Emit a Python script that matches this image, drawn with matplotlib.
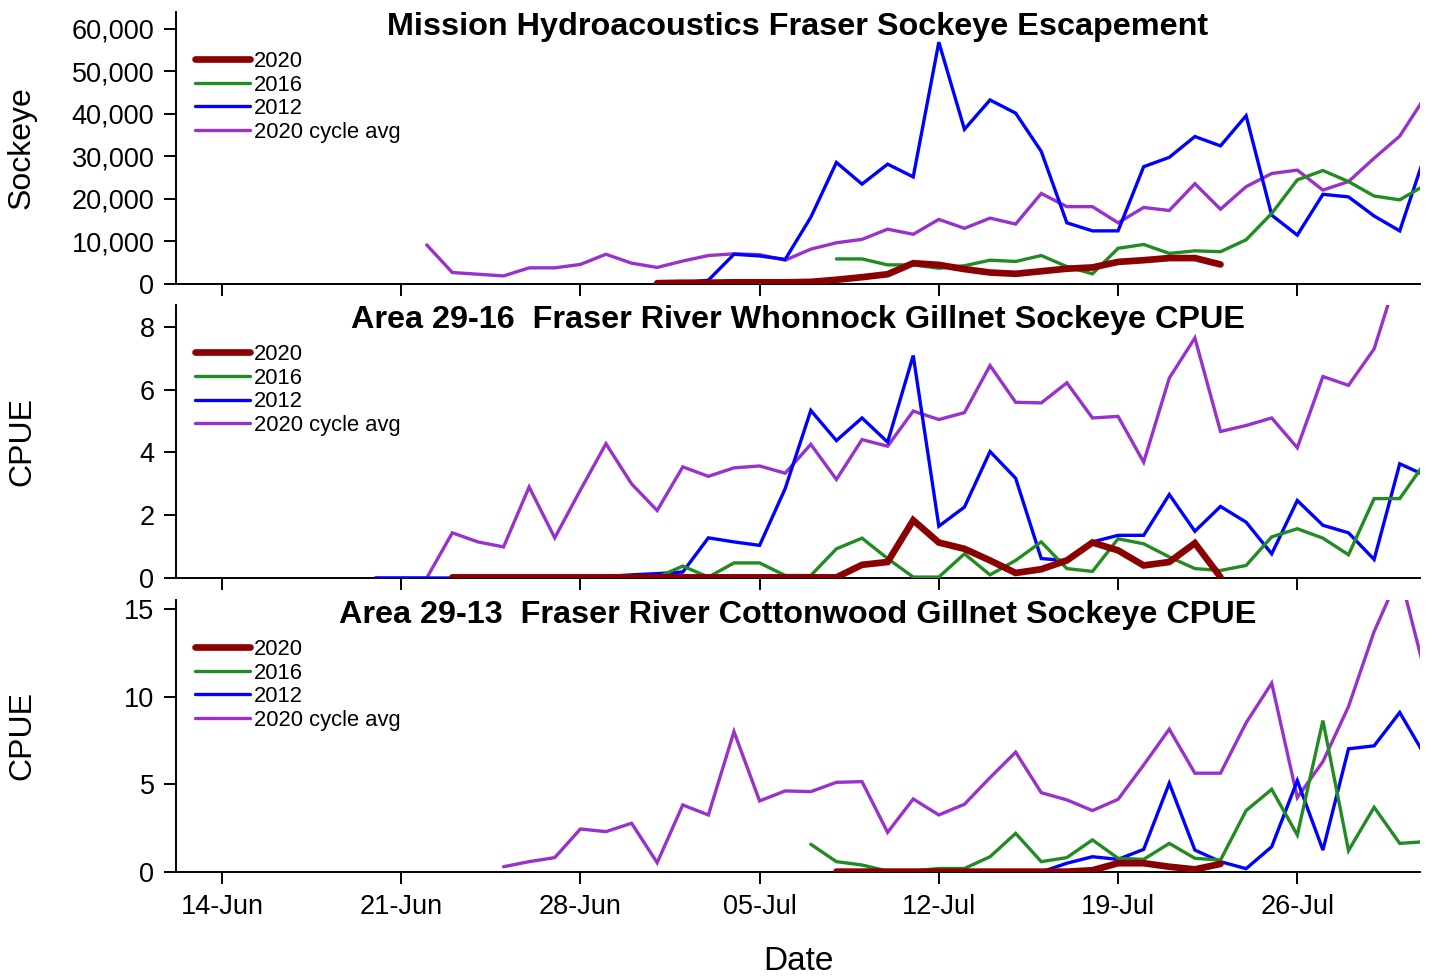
import pandas as pd
import matplotlib
matplotlib.use("Agg")
import matplotlib.pyplot as plt
import matplotlib.dates as mdates
from matplotlib.ticker import FuncFormatter

plt.rcParams['font.family'] = ['Liberation Sans', 'DejaVu Sans']

# ---------- Data (daily values, each series starts on its own date) ----------
# Mission hydroacoustics escapement (fish / day)
mission_2020_start = "2020-07-01"
mission_2020 = [200, 300, 300, 400, 400, 400, 500, 1000, 1600, 2300, 4900, 4500, 3500,
                2700, 2400, 3000, 3600, 3900, 5200, 5600, 6100, 6100, 4600]
mission_2016_start = "2020-07-08"
mission_2016 = [5900, 5900, 4500, 4500, 3700, 4300, 5600, 5300, 6700, 4100, 2400, 8400,
                9300, 7200, 7800, 7600, 10400, 16600, 24500, 26700, 24100, 20700, 19800, 23300]
mission_2012_start = "2020-07-01"
mission_2012 = [100, 300, 900, 7000, 6600, 5800, 15700, 28600, 23500, 28200, 25200, 56900,
                36400, 43300, 40200, 31200, 14400, 12500, 12500, 27600, 29800, 34700, 32500,
                39600, 16200, 11500, 21100, 20500, 16000, 12500, 30600]
mission_avg_start = "2020-06-22"
mission_avg = [9200, 2700, 2300, 1900, 3800, 3800, 4600, 7000, 4900, 3900, 5400, 6700, 7100,
               6900, 5600, 8200, 9700, 10500, 12900, 11700, 15200, 13100, 15500, 14100, 21300,
               18200, 18200, 14400, 18000, 17300, 23600, 17600, 22900, 26000, 26800, 22100,
               24100, 29600, 34800, 44100]

# Area 29-16 Whonnock gillnet CPUE
whon_2020_start = "2020-06-23"
whon_2020 = [0.02] * 16 + [0.42, 0.51, 1.84, 1.13, 0.93, 0.56, 0.16, 0.28, 0.56, 1.13, 0.88,
                           0.40, 0.51, 1.11, 0.03]
whon_2016_start = "2020-06-28"
whon_2016 = [0.02, 0.02, 0.02, 0.02, 0.38, 0.03, 0.48, 0.48, 0.08, 0.08, 0.93, 1.27, 0.62,
             0.03, 0.03, 0.77, 0.10, 0.56, 1.15, 0.30, 0.21, 1.25, 1.09, 0.67, 0.30, 0.24,
             0.40, 1.31, 1.57, 1.27, 0.74, 2.53, 2.53, 3.69]
whon_2012_start = "2020-06-20"
whon_2012 = [0.0] * 9 + [0.05, 0.10, 0.14, 0.19, 1.28, 1.15, 1.04, 2.85, 5.34, 4.38, 5.10,
                         4.33, 7.09, 1.65, 2.26, 4.03, 3.18, 0.62, 0.55, 1.15, 1.36, 1.36, 2.66,
                         1.49, 2.28, 1.78, 0.77, 2.47, 1.68, 1.44, 0.59, 3.64, 3.27]
whon_avg_start = "2020-06-20"
whon_avg = [0.0, 0.0, 0.0, 1.44, 1.15, 0.99, 2.90, 1.28, 2.80, 4.28, 3.00, 2.15, 3.54, 3.24,
            3.51, 3.57, 3.34, 4.26, 3.14, 4.41, 4.20, 5.32, 5.05, 5.27, 6.77, 5.60, 5.58, 6.22,
            5.10, 5.15, 3.69, 6.37, 7.65, 4.67, 4.86, 5.10, 4.15, 6.42, 6.14, 7.30, 9.90, 10.50]

# Area 29-13 Cottonwood gillnet CPUE
cotton_2020_start = "2020-07-08"
cotton_2020 = [0.02] * 10 + [0.10, 0.50, 0.50, 0.30, 0.15, 0.46]
cotton_2016_start = "2020-07-07"
cotton_2016 = [1.58, 0.59, 0.40, 0.05, 0.05, 0.20, 0.20, 0.87, 2.20, 0.59, 0.82, 1.83, 0.78,
               0.72, 1.63, 0.78, 0.68, 3.50, 4.71, 2.11, 8.63, 1.22, 3.69, 1.63, 1.73]
cotton_2012_start = "2020-07-13"
cotton_2012 = [0.0, 0.0, 0.0, 0.0, 0.50, 0.87, 0.72, 1.29, 5.06, 1.25, 0.59, 0.19, 1.44, 5.21,
               1.25, 7.02, 7.19, 9.09, 6.60]
cotton_avg_start = "2020-06-25"
cotton_avg = [0.30, 0.59, 0.82, 2.45, 2.30, 2.78, 0.53, 3.82, 3.25, 8.00, 4.05, 4.62, 4.58,
              5.11, 5.15, 2.26, 4.16, 3.25, 3.86, 5.38, 6.83, 4.52, 4.11, 3.50, 4.14, 6.10,
              8.14, 5.63, 5.63, 8.50, 10.76, 4.24, 6.29, 9.43, 13.70, 17.00, 11.30]

series_labels = ["2020", "2016", "2012", "2020 cycle avg"]
series_colors = ["#8B0000", "#228B22", "#0000FF", "#9932CC"]
series_widths = [4.8, 2.4, 2.4, 2.4]

panels = [
    ("Mission Hydroacoustics Fraser Sockeye Escapement", "Sockeye",
     [(mission_2020_start, mission_2020), (mission_2016_start, mission_2016),
      (mission_2012_start, mission_2012), (mission_avg_start, mission_avg)],
     [0, 10000, 20000, 30000, 40000, 50000, 60000], 64000),
    ("Area 29-16  Fraser River Whonnock Gillnet Sockeye CPUE", "CPUE",
     [(whon_2020_start, whon_2020), (whon_2016_start, whon_2016),
      (whon_2012_start, whon_2012), (whon_avg_start, whon_avg)],
     [0, 2, 4, 6, 8], 8.7),
    ("Area 29-13  Fraser River Cottonwood Gillnet Sockeye CPUE", "CPUE",
     [(cotton_2020_start, cotton_2020), (cotton_2016_start, cotton_2016),
      (cotton_2012_start, cotton_2012), (cotton_avg_start, cotton_avg)],
     [0, 5, 10, 15], 15.5),
]

x_ticks = pd.date_range("2020-06-14", "2020-07-26", freq="7D")
x_left = pd.Timestamp("2020-06-14") - pd.Timedelta(hours=43)
x_right = pd.Timestamp("2020-07-30") + pd.Timedelta(hours=19)

# ---------- Plot ----------
fig = plt.figure(figsize=(14.32, 9.77), dpi=100)
W, H = 1432, 977
ax_boxes = [(12, 284), (305, 578), (600, 872)]  # top, bottom in pixels
left_px, right_px = 176, 1420

draw_order = [3, 2, 1, 0]
for i, (title, ylab, data, yticks, ytop) in enumerate(panels):
    top, bot = ax_boxes[i]
    ax = fig.add_axes([left_px / W, 1 - bot / H, (right_px - left_px) / W, (bot - top) / H])
    handles = {}
    for k in draw_order:
        start, vals = data[k]
        dates = pd.date_range(start, periods=len(vals), freq="D")
        ln, = ax.plot(dates, vals, color=series_colors[k], lw=series_widths[k],
                      solid_capstyle="round", solid_joinstyle="miter", zorder=2 + (3 - k))
        handles[k] = ln
    ax.set_xlim(x_left, x_right)
    ax.set_ylim(0, ytop)
    ax.set_yticks(yticks)
    if i == 0:
        ax.yaxis.set_major_formatter(FuncFormatter(lambda v, p: f"{int(v):,}"))
    ax.set_xticks(x_ticks)
    ax.xaxis.set_major_formatter(mdates.DateFormatter("%d-%b"))
    for s in ["top", "right"]:
        ax.spines[s].set_visible(False)
    for s in ["left", "bottom"]:
        ax.spines[s].set_linewidth(1.4)
    ax.tick_params(axis="both", length=8.5, width=1.4, labelsize=19.5, direction="out")
    ax.tick_params(axis="y", pad=7)
    ax.tick_params(axis="x", pad=7.5, labelbottom=(i == 2))
    ax.text(0.5, 0.944, title, transform=ax.transAxes, ha="center", va="center",
            fontsize=23.3, fontweight="bold")
    fig.text(22 / W, 1 - (top + bot) / 2 / H, ylab, rotation=90, ha="center", va="center",
             fontsize=23)
    ax.legend([handles[k] for k in range(4)], series_labels, loc="upper left",
              bbox_to_anchor=(0.0153, 0.857), frameon=False, fontsize=15.8,
              handlelength=2.5, handletextpad=0.2, labelspacing=0.12, borderpad=0,
              borderaxespad=0)

fig.text(798 / W, 1 - 961 / H, "Date", ha="center", va="center", fontsize=24)

fig.savefig("out.png", dpi=100)
